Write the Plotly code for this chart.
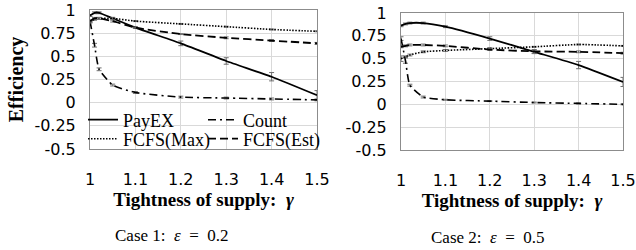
import plotly.graph_objects as go

# ---------------- data ----------------
gamma = [1.0, 1.01, 1.02, 1.05, 1.1, 1.2, 1.3, 1.4, 1.5]

# Case 1: epsilon = 0.2
payex_1 = [0.94, 0.97, 0.97, 0.91, 0.81, 0.64, 0.45, 0.28, 0.08]
count_1 = [0.88, 0.62, 0.36, 0.19, 0.11, 0.06, 0.05, 0.04, 0.03]
fcfs_max_1 = [0.87, 0.90, 0.91, 0.91, 0.88, 0.85, 0.82, 0.79, 0.77]
fcfs_est_1 = [0.88, 0.91, 0.91, 0.88, 0.81, 0.74, 0.70, 0.67, 0.64]
err_payex_1 = [0.01, 0.01, 0.01, 0.01, 0.01, 0.025, 0.035, 0.045, 0.05]
err_count_1 = [0.01, 0.02, 0.015, 0.01, 0.01, 0.01, 0.01, 0.01, 0.01]
err_max_1 = [0.01, 0.01, 0.01, 0.01, 0.005, 0.005, 0.005, 0.005, 0.005]
err_est_1 = [0.01, 0.01, 0.01, 0.01, 0.005, 0.005, 0.01, 0.01, 0.01]

# Case 2: epsilon = 0.5
payex_2 = [0.86, 0.88, 0.89, 0.89, 0.85, 0.72, 0.575, 0.43, 0.245]
count_2 = [0.72, 0.48, 0.21, 0.08, 0.05, 0.035, 0.02, 0.01, 0.0]
fcfs_max_2 = [0.50, 0.52, 0.54, 0.575, 0.59, 0.61, 0.63, 0.655, 0.64]
fcfs_est_2 = [0.63, 0.64, 0.65, 0.65, 0.64, 0.60, 0.58, 0.575, 0.56]
err_payex_2 = [0.01, 0.01, 0.01, 0.01, 0.01, 0.02, 0.02, 0.04, 0.05]
err_count_2 = [0.02, 0.03, 0.01, 0.01, 0.005, 0.005, 0.005, 0.005, 0.005]
err_max_2 = [0.03, 0.01, 0.01, 0.01, 0.01, 0.01, 0.005, 0.005, 0.005]
err_est_2 = [0.01, 0.01, 0.01, 0.01, 0.01, 0.01, 0.02, 0.01, 0.01]

series_names = ["PayEX", "Count", "FCFS(Max)", "FCFS(Est)"]
x_ticks = [1, 1.1, 1.2, 1.3, 1.4, 1.5]
x_tick_text = ["1", "1.1", "1.2", "1.3", "1.4", "1.5"]
y_ticks = [1, 0.75, 0.5, 0.25, 0, -0.25, -0.5]
y_tick_text = ["1", "0.75", "0.5", "0.25", "0", "-0.25", "-0.5"]

# ---------------- styles ----------------
styles = {
    "PayEX": dict(dash="solid", width=1.8),
    "Count": dict(dash="8px,4px,2px,4px", width=1.6),
    "FCFS(Max)": dict(dash="1.5px,1.5px", width=1.6),
    "FCFS(Est)": dict(dash="8px,4px", width=1.8),
}
legend_of = {"PayEX": "legend", "Count": "legend", "FCFS(Max)": "legend2", "FCFS(Est)": "legend2"}

fig = go.Figure()

panels = [
    ("x", "y", [payex_1, count_1, fcfs_max_1, fcfs_est_1], [err_payex_1, err_count_1, err_max_1, err_est_1], True),
    ("x2", "y2", [payex_2, count_2, fcfs_max_2, fcfs_est_2], [err_payex_2, err_count_2, err_max_2, err_est_2], False),
]

for xa, ya, vals, errs, show in panels:
    for name, v, e in zip(series_names, vals, errs):
        st = styles[name]
        fig.add_trace(go.Scatter(
            x=gamma, y=v, name=name, mode="lines",
            line=dict(color="black", width=st["width"], dash=st["dash"], shape="spline", smoothing=0.5),
            error_y=dict(type="data", array=e, visible=True, color="#6f6f6f", thickness=1, width=2.5),
            xaxis=xa, yaxis=ya, showlegend=show, legend=legend_of[name],
        ))

tick_font = dict(family="DejaVu Sans", size=16, color="black")
xtitle_font = dict(family="Liberation Serif", size=19, color="black")
ytitle_font = dict(family="Liberation Serif", size=20, color="black")
legend_font = dict(family="Liberation Serif", size=18, color="black")
caption_font = dict(family="Liberation Serif", size=17, color="black")

common_x = dict(range=[1, 1.5], tickvals=x_ticks, ticktext=x_tick_text, showgrid=True,
                gridcolor="#d9d9d9", gridwidth=1, showline=True, linecolor="#8c8c8c", linewidth=1,
                mirror=True, ticks="", tickfont=tick_font, zeroline=False, ticklabelstandoff=16,
                automargin=False,
                title=dict(text="<b>Tightness of supply:\u00a0 <i>γ</i></b>", font=xtitle_font, standoff=2))
common_y = dict(range=[-0.5, 1], tickvals=y_ticks, ticktext=y_tick_text, showgrid=True,
                gridcolor="#d9d9d9", gridwidth=1, showline=True, linecolor="#8c8c8c", linewidth=1,
                mirror=True, ticks="", tickfont=tick_font, zeroline=False, ticklabelstandoff=10,
                automargin=False)

fig.update_layout(
    width=636, height=250,
    margin=dict(l=0, r=0, t=0, b=0, autoexpand=False),
    paper_bgcolor="white", plot_bgcolor="white",
    xaxis=dict(domain=[90 / 636, 317 / 636], anchor="y", **common_x),
    yaxis=dict(domain=[(250 - 149) / 250, (250 - 10) / 250], anchor="x",
               title=dict(text="<b>Efficiency</b>", font=ytitle_font, standoff=5), **common_y),
    xaxis2=dict(domain=[401 / 636, 623 / 636], anchor="y2", **common_x),
    yaxis2=dict(domain=[(250 - 150) / 250, (250 - 13) / 250], anchor="x2", **common_y),
    legend=dict(orientation="h", x=83 / 636, xanchor="left", y=(250 - 120) / 250, yanchor="middle",
                bgcolor="rgba(0,0,0,0)", entrywidth=75, entrywidthmode="pixels",
                font=legend_font, itemwidth=30, tracegroupgap=0),
    legend2=dict(orientation="h", x=83 / 636, xanchor="left", y=(250 - 139) / 250, yanchor="middle",
                 bgcolor="rgba(0,0,0,0)", entrywidth=75, entrywidthmode="pixels",
                 font=legend_font, itemwidth=30, tracegroupgap=0),
    annotations=[
        dict(text="Case 1:\u2002<i>ε</i>\u2002=\u20020.2", x=172 / 636, y=(250 - 235) / 250,
             xref="paper", yref="paper", showarrow=False, font=caption_font,
             xanchor="center", yanchor="middle"),
        dict(text="Case 2:\u2002<i>ε</i>\u2002=\u20020.5", x=488 / 636, y=(250 - 237) / 250,
             xref="paper", yref="paper", showarrow=False, font=caption_font,
             xanchor="center", yanchor="middle"),
    ],
)

fig.write_html("out.html", config={"displayModeBar": False},
               post_script="document.body.style.margin='0';document.body.style.overflow='hidden';")
